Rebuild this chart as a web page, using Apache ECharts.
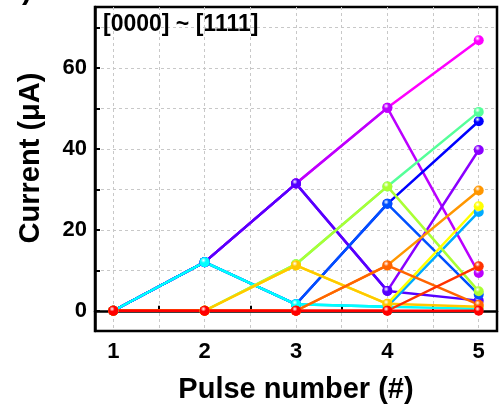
<!DOCTYPE html>
<html>
<head>
<meta charset="utf-8">
<script src="https://cdn.jsdelivr.net/npm/echarts@6/dist/echarts.min.js"></script>
<style>
  html, body { margin: 0; padding: 0; background: #fff; }
  #chart { width: 500px; height: 415px; }
</style>
</head>
<body>
<div id="chart"></div>
<script>
// pulse numbers on the x axis
const pulses = [1, 2, 3, 4, 5];

// tick / label positions
const xLabelValues = [1, 2, 3, 4, 5];
const xTickValues = [1, 1.5, 2, 2.5, 3, 3.5, 4, 4.5, 5];
const yLabelValues = [0, 20, 40, 60];
const yTickValues = [0, 10, 20, 30, 40, 50, 60, 70];

// one path per state, drawn from [1111] down to [0000]
const codes = ['[1111]', '[1110]', '[1101]', '[1100]', '[1011]', '[1010]', '[1001]', '[1000]',
  '[0111]', '[0110]', '[0101]', '[0100]', '[0011]', '[0010]', '[0001]', '[0000]'];

const s1111 = [0, 12.0, 31.4, 50.1, 66.8];
const s1110 = [0, 12.0, 31.4, 50.1, 9.3];
const s1101 = [0, 12.0, 31.4, 4.9, 39.7];
const s1100 = [0, 12.0, 31.4, 4.9, 2.5];
const s1011 = [0, 12.0, 1.6, 26.4, 46.8];
const s1010 = [0, 12.0, 1.6, 26.4, 4.0];
const s1001 = [0, 12.0, 1.6, 1.0, 24.4];
const s1000 = [0, 12.0, 1.6, 1.0, 0.5];
const s0111 = [0, 0, 11.5, 30.7, 49.1];
const s0110 = [0, 0, 11.5, 30.7, 4.8];
const s0101 = [0, 0, 11.2, 1.7, 25.8];
const s0100 = [0, 0, 11.2, 1.7, 1.0];
const s0011 = [0, 0, 0, 11.2, 29.7];
const s0010 = [0, 0, 0, 11.2, 1.5];
const s0001 = [0, 0, 0, 0, 11.0];
const s0000 = [0, 0, 0, 0, 0];

const values = [s1111, s1110, s1101, s1100, s1011, s1010, s1001, s1000,
  s0111, s0110, s0101, s0100, s0011, s0010, s0001, s0000];

const colors = ['#ff00ff', '#bb00ff', '#8a00ff', '#5500ff', '#0000ff', '#0050ff', '#00aaff', '#00ffff',
  '#55ff99', '#aaff33', '#ffff00', '#ffc800', '#ff9600', '#ff6400', '#ff3200', '#ff0000'];

const fontFamily = '"Liberation Sans", Arial, sans-serif';

function ball(c) {
  return {
    type: 'radial', x: 0.38, y: 0.32, r: 0.75,
    colorStops: [
      { offset: 0, color: '#ffffff' },
      { offset: 0.35, color: c },
      { offset: 1, color: c }
    ]
  };
}

const series = codes.map((code, i) => ({
  name: code,
  type: 'line',
  data: pulses.map((p, k) => [p, values[i][k]]),
  symbol: 'circle',
  symbolSize: 10,
  showSymbol: true,
  lineStyle: { color: colors[i], width: 2.5 },
  itemStyle: { color: ball(colors[i]), borderWidth: 0 },
  emphasis: { disabled: true },
  animation: false
}));

const chart = echarts.init(document.getElementById('chart'), null, { renderer: 'canvas' });

const option = {
  backgroundColor: '#fff',
  animation: false,
  grid: {
    left: 95, top: 7, right: 3, bottom: 84,
    show: true, borderColor: '#000', borderWidth: 2.5, backgroundColor: 'transparent'
  },
  graphic: [
    {
      type: 'text', left: 103, top: 13, z: 100,
      style: { text: '[0000] ~ [1111]', font: 'bold 23px ' + fontFamily, fill: '#000' }
    },
    {
      type: 'text', left: 22, top: -24, z: 100,
      style: { text: ')', font: 'bold 30px ' + fontFamily, fill: '#000' }
    }
  ],
  xAxis: {
    type: 'value',
    min: 0.8,
    max: 5.2,
    name: 'Pulse number (#)',
    nameLocation: 'middle',
    nameGap: 44,
    nameTextStyle: { fontSize: 29, fontWeight: 'bold', color: '#000', fontFamily: fontFamily },
    axisLine: { show: true, lineStyle: { color: '#000', width: 2.5 } },
    axisTick: { show: true, inside: true, length: 5, customValues: xTickValues, lineStyle: { color: '#000', width: 2 } },
    axisLabel: { customValues: xLabelValues, fontSize: 22, fontWeight: 'bold', color: '#000', margin: 10, fontFamily: fontFamily },
    splitLine: { show: true, lineStyle: { color: '#c8c8c8', width: 1, type: [3, 3] } }
  },
  yAxis: {
    type: 'value',
    min: -5,
    max: 75,
    name: 'Current (μA)',
    nameLocation: 'middle',
    nameGap: 50,
    nameRotate: 90,
    nameTextStyle: { fontSize: 29, fontWeight: 'bold', color: '#000', fontFamily: fontFamily, padding: [0, 0, 0, 22] },
    axisLine: { show: true, lineStyle: { color: '#000', width: 2.5 } },
    axisTick: { show: true, inside: true, length: 5, customValues: yTickValues, lineStyle: { color: '#000', width: 2 } },
    axisLabel: { customValues: yLabelValues, fontSize: 22, fontWeight: 'bold', color: '#000', margin: 8, fontFamily: fontFamily },
    splitLine: { show: true, lineStyle: { color: '#c8c8c8', width: 1, type: [3, 3] } }
  },
  series: series
};

chart.setOption(option);
</script>
</body>
</html>
